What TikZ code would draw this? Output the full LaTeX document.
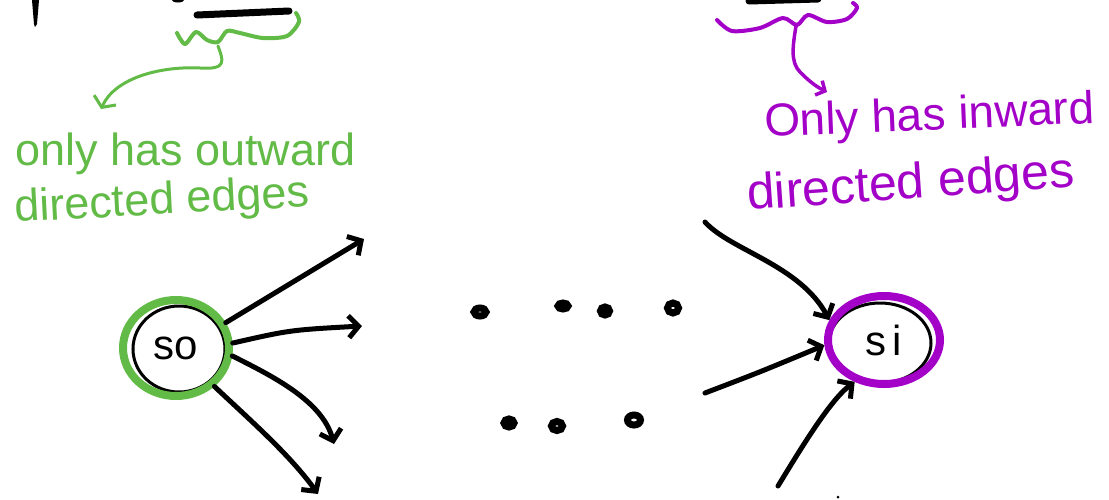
\documentclass[tikz,border=0pt]{standalone}
\usepackage{fontspec}
\setmainfont{Liberation Sans}
\usetikzlibrary{arrows.meta,shapes.geometric}
\definecolor{hgreen}{RGB}{98,187,71}
\definecolor{hpurple}{RGB}{163,0,200}
\begin{document}
\begin{tikzpicture}[x=1pt,y=-1pt,
  ink/.style={line width=5pt,line cap=round,line join=round},
  edge/.style={ink,-{Straight Barb[length=10pt,width=22pt]}},
  gline/.style={hgreen,line width=3pt,line cap=round,line join=round},
  pline/.style={hpurple,line width=3.5pt,line cap=round,line join=round},
  gnote/.style={hgreen,anchor=base west,inner sep=0pt,font=\fontsize{45}{54}\selectfont},
  pnote/.style={hpurple,anchor=base west,inner sep=0pt},
  vert/.style={ellipse,inner sep=0pt,line width=8pt,font=\fontsize{42}{50}\selectfont},
  dot/.style={line width=7pt}
]
\useasboundingbox (0,0) rectangle (1109,499);

% black marks at the top edge
\fill (32,0) -- (39,0) -- (37,24) -- (35,27) -- (34,24) -- cycle;
\draw[line width=7pt,line cap=round] (197,15) -- (289,11);
\fill (178,0) ellipse (6 and 2.5);
\draw[line width=7pt,line cap=round] (749,1) -- (818,-1);

% green brace and pointer
\draw[gline,line width=4pt] plot[smooth] coordinates {(177,33) (185,44) (196,32) (207,40) (218,42) (227,31) (240,33) (263,38) (287,36) (299,22) (296,13)};
\coordinate (gtip) at (101,109);
\draw[gline,-{Straight Barb[length=8pt,width=24pt]}] (218,46) .. controls (223,60) and (228,70) .. (200,68) .. controls (160,66) and (115,78) .. (gtip);

% purple brace and pointer
\draw[pline,line width=4pt] plot[smooth] coordinates {(717,20) (732,31) (760,28) (783,18) (797,25) (808,15) (827,22) (847,19) (857,8) (853,3)};
\coordinate (ptip) at (827,92);
\draw[pline,-{Straight Barb[length=7pt,width=16pt]}] (796,26) .. controls (793,45) and (790,62) .. (800,72) .. controls (808,80) and (815,86) .. (ptip);

% green note
\node[gnote] (g1) at (15,165) {only has outward};
\node[gnote,rotate=3] (g2) at (15,222) {directed edges};

% purple note
\node[pnote,rotate=2.4,font=\fontsize{46}{55}\selectfont] (p1) at (765,137) {Only has inward};
\node[pnote,rotate=4,font=\fontsize{50}{60}\selectfont] (p2) at (748,210) {directed edges};

% sketchy inner outlines
\draw[line width=3pt] (179,349) ellipse (46 and 43);
\draw[line width=3pt] (880,343) ellipse (51 and 40);

% vertices
\node[vert,draw=hgreen,minimum width=106pt,minimum height=96pt] (so) at (176,348) {so};
\node[vert,draw=hpurple,minimum width=112pt,minimum height=88pt] (si) at (884,340) {s\hspace{6pt}i};

% outgoing edges of so
\coordinate (a1) at (364,239);
\coordinate (a2) at (362,326);
\coordinate (a3) at (334,444);
\coordinate (a4) at (318,494);
\draw[edge] (so.27) -- (a1);
\draw[edge] (so.5) .. controls (290,330) .. (a2);
\draw[edge] (so.-8) .. controls (270,375) and (322,400) .. (a3);
\draw[edge] (so.-45) .. controls (250,420) and (290,455) .. (a4);

% incoming edges of si
\coordinate (b1) at (705,222);
\coordinate (b2) at (705,393);
\coordinate (b3) at (778,486);
\draw[edge] (b1) .. controls (730,250) and (800,265) .. (si.160);
\draw[edge] (b2) .. controls (760,372) .. (si.185);
\draw[edge] (b3) .. controls (800,450) and (830,400) .. (si.235);

% dots
\draw[dot] (480,312) ellipse (6 and 4);
\draw[dot] (563,306) ellipse (5 and 3);
\draw[dot] (605,311) ellipse (4.5 and 4);
\draw[dot] (673,308) ellipse (5.5 and 5);
\draw[dot] (509,423) ellipse (5 and 4);
\draw[dot] (557,426) ellipse (5.5 and 4.5);
\draw[dot] (634,420) ellipse (6.5 and 5);
\fill (838,497) circle (1.5);
\end{tikzpicture}
\end{document}
